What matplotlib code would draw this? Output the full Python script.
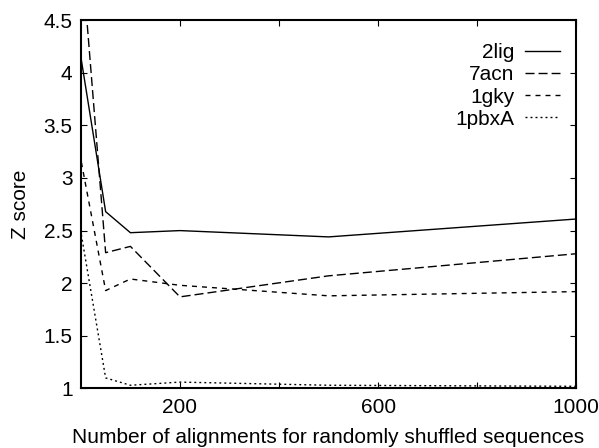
"""Z score vs number of shuffled-sequence alignments (gnuplot-style line chart)."""

import matplotlib

matplotlib.use("Agg")
import matplotlib.pyplot as plt
from matplotlib.ticker import FormatStrFormatter

plt.rcParams.update(
    {
        "font.family": ["Liberation Sans", "DejaVu Sans"],
        "font.size": 15,
        "axes.linewidth": 1.5,
        "xtick.direction": "in",
        "ytick.direction": "in",
        "xtick.top": True,
        "ytick.right": True,
        "xtick.major.size": 4,
        "ytick.major.size": 4,
        "xtick.major.width": 0.8,
        "ytick.major.width": 0.8,
    }
)

# Number of alignments for randomly shuffled sequences
n_align = [1, 50, 100, 200, 500, 1000]

z_2lig = [4.12, 2.68, 2.48, 2.50, 2.44, 2.61]
z_7acn = [5.15, 2.29, 2.35, 1.87, 2.07, 2.28]
z_1gky = [3.15, 1.93, 2.04, 1.98, 1.88, 1.92]
z_1pbxa = [2.46, 1.10, 1.03, 1.06, 1.03, 1.02]

series = [
    ("2lig", z_2lig, "-"),
    ("7acn", z_7acn, (0, (6.5, 2.9))),
    ("1gky", z_1gky, (0, (3.6, 3.6))),
    ("1pbxA", z_1pbxa, (0, (1.4, 2.2))),
]

xticks = [200, 400, 600, 800, 1000]
xtick_labels = ["200", "", "600", "", "1000"]

fig = plt.figure(figsize=(5.99, 4.48), dpi=100)
ax = fig.add_axes([0.135, 0.133, 0.827, 0.822])

for name, z, ls in series:
    ax.plot(n_align, z, color="black", lw=1.0, ls=ls, label=name)

ax.set_xlim(0, 1000)
ax.set_ylim(1, 4.5)
ax.set_xticks(xticks)
ax.set_xticklabels(xtick_labels)
ax.yaxis.set_major_formatter(FormatStrFormatter("%g"))
ax.tick_params(axis="x", pad=7)
ax.tick_params(axis="y", pad=6)

ax.set_xlabel("Number of alignments for randomly shuffled sequences", labelpad=8)
ax.set_ylabel("Z score", labelpad=10)

ax.legend(
    loc="upper right",
    bbox_to_anchor=(0.968, 0.937),
    frameon=False,
    markerfirst=False,
    handlelength=1.7,
    handletextpad=0.5,
    labelspacing=0.15,
    borderaxespad=0,
    borderpad=0,
)

fig.savefig("out.png", dpi=100)
